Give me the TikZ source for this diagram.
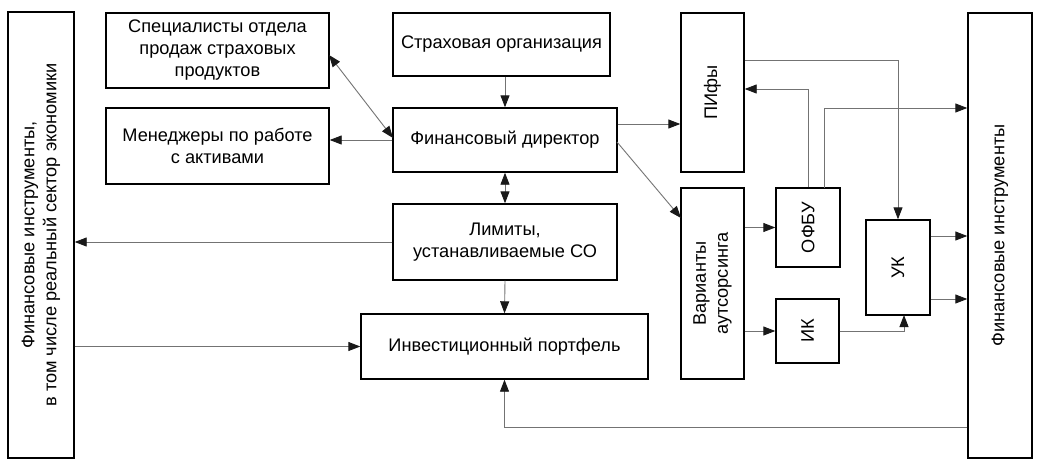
\documentclass[tikz,border=0pt]{standalone}
\usepackage{fontspec}
\setmainfont{Liberation Sans}
\usetikzlibrary{arrows.meta,calc}
\tikzset{
  box/.style={draw=black, line width=1.4pt, inner sep=0pt},
  lbl/.style={align=center, font=\fontsize{18.2}{22}\selectfont, inner sep=0pt},
  conn/.style={draw=black!55, line width=0.9pt, -{Triangle[length=12pt,width=9pt,color=black!90]}},
  conn2/.style={draw=black!55, line width=0.9pt, {Triangle[length=12pt,width=9pt,color=black!90]}-{Triangle[length=12pt,width=9pt,color=black!90]}}
}
\begin{document}
\begin{tikzpicture}[x=1pt,y=-1pt]
\useasboundingbox (0,0) rectangle (1045,469);
\fill[white] (0,0) rectangle (1045,469);
% boxes
\node[box, minimum width=66pt, minimum height=446pt] (left) at (41,235) {};
\node[lbl, rotate=90] (lefttxt) at (left) {Финансовые инструменты,\\в том числе реальный сектор экономики};
\node[box, minimum width=223pt, minimum height=75pt, lbl] (spec) at (217.5,50.5) {Специалисты отдела\\продаж страховых\\продуктов};
\node[box, minimum width=223pt, minimum height=76pt, lbl] (men) at (217.5,146) {Менеджеры по работе\\с активами};
\node[box, minimum width=217pt, minimum height=63pt, lbl] (strah) at (501.5,44.5) {Страховая организация};
\node[box, minimum width=224pt, minimum height=64pt, lbl] (fin) at (505,140) {Финансовый директор};
\node[box, minimum width=224pt, minimum height=76pt, lbl] (lim) at (505,242) {Лимиты,\\устанавливаемые СО};
\node[box, minimum width=287pt, minimum height=65pt, lbl] (inv) at (504.5,346.5) {Инвестиционный портфель};
\node[box, minimum width=63pt, minimum height=159pt] (pif) at (712.5,92.5) {};
\node[lbl, rotate=90] (piftxt) at (pif) {ПИфы};
\node[box, minimum width=63pt, minimum height=191pt] (var) at (712.5,283.5) {};
\node[lbl, rotate=90] (vartxt) at (var) {Варианты\\аутсорсинга};
\node[box, minimum width=64pt, minimum height=79pt] (ofbu) at (808,227.5) {};
\node[lbl, rotate=90] (ofbutxt) at (ofbu) {ОФБУ};
\node[box, minimum width=63pt, minimum height=64pt] (ik) at (807.5,331) {};
\node[lbl, rotate=90] (iktxt) at (ik) {ИК};
\node[box, minimum width=64pt, minimum height=95pt] (uk) at (898,267.5) {};
\node[lbl, rotate=90] (uktxt) at (uk) {УК};
\node[box, minimum width=64pt, minimum height=445pt] (right) at (1000,235.5) {};
\node[lbl, rotate=90] (righttxt) at (right) {Финансовые инструменты};
% helper coordinates
\coordinate (ybot) at (0,427);
\coordinate (ypif) at (0,60);
\coordinate (yofl) at (0,89);
\coordinate (yofr) at (0,108);
\coordinate (yfp) at (0,124);
\coordinate (yuk1) at (0,236);
\coordinate (yuk2) at (0,299);
\coordinate (specout) at (329,55);
\coordinate (finin) at (393,138);
\coordinate (findiag) at (617,142);
\coordinate (vardiag) at (681,218);
\coordinate (ofbuup) at (824,188);
\coordinate (ukin) at (904,315);
% connectors
\draw[conn] (strah.south -| fin.north) -- (fin.north);
\draw[conn2] (fin.south) -- (lim.north);
\draw[conn] (lim.south) -- (inv.north);
\draw[conn2] (specout) -- (finin);
\draw[conn] (fin.west) -- (fin.west -| men.east);
\draw[conn] (yfp -| fin.east) -- (yfp -| pif.west);
\draw[conn] (findiag) -- (vardiag);
\draw[conn] (lim.west) -- (lim.west -| left.east);
\draw[conn] (inv.west -| left.east) -- (inv.west);
\draw[conn] (ybot -| right.west) -| (inv.south);
\draw[conn] (ofbu.west -| var.east) -- (ofbu.west);
\draw[conn] (ik.west -| var.east) -- (ik.west);
\draw[conn] (ofbu.north) |- (yofl -| pif.east);
\draw[conn] (ofbuup) |- (yofr -| right.west);
\draw[conn] (ypif -| pif.east) -| (uk.north);
\draw[conn] (yuk1 -| uk.east) -- (yuk1 -| right.west);
\draw[conn] (yuk2 -| uk.east) -- (yuk2 -| right.west);
\draw[conn] (ik.east) -| (ukin);
\end{tikzpicture}
\end{document}
